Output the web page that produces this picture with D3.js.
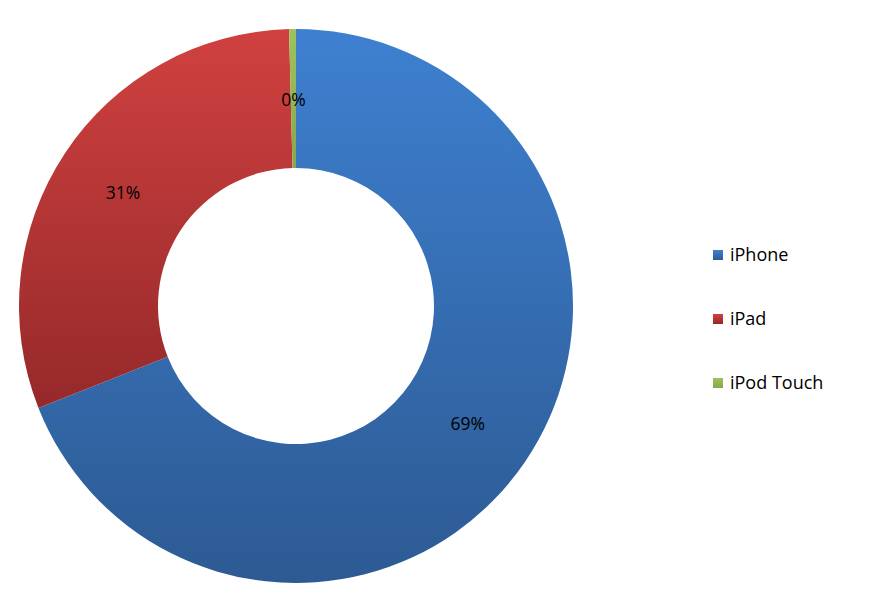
<!DOCTYPE html>
<html>
<head>
<meta charset="utf-8">
<script src="https://cdn.jsdelivr.net/npm/d3@7"></script>
<style>
  body { margin: 0; background: #fff; }
  text { font-family: "Open Sans", "Noto Sans", sans-serif; fill: #000; }
</style>
</head>
<body>
<div id="chart"></div>
<script>
// data
var devices = ["iPhone", "iPad", "iPod Touch"]
var shares = [69.0, 30.6, 0.4]
var pctLabels = ["69%", "31%", "0%"]

var colorTop = ["#3e80d0", "#d04140", "#9fc35a"]
var colorBottom = ["#2d5a93", "#96292a", "#86a84a"]

var width = 873
var height = 616
var cx = 296, cy = 306
var outerR = 277, innerR = 138

var svg = d3.select("#chart")
			.append("svg")
			.attr("width", width)
			.attr("height", height)

var defs = svg.append("defs")
devices.forEach(function(d, i) {
	var g = defs.append("linearGradient")
				.attr("id", "grad" + i)
				.attr("x1", 0).attr("y1", 0)
				.attr("x2", 0).attr("y2", 1)
	g.append("stop").attr("offset", "0%").attr("stop-color", colorTop[i])
	g.append("stop").attr("offset", "100%").attr("stop-color", colorBottom[i])
})

var pie = d3.pie().sort(null).value(function(d) { return d })
var arcs = pie(shares)

var arc = d3.arc().innerRadius(innerR).outerRadius(outerR)

var chart = svg.append("g")
			.attr("transform", "translate(" + cx + "," + cy + ")")

chart.selectAll("path.slice")
	.data(arcs)
	.enter()
	.append("path")
	.attr("class", "slice")
	.attr("d", arc)
	.attr("fill", function(d, i) { return "url(#grad" + i + ")" })

// labels placed in the middle of the ring
var labelArc = d3.arc().innerRadius((innerR + outerR) / 2).outerRadius((innerR + outerR) / 2)
chart.selectAll("text.pct")
	.data(arcs)
	.enter()
	.append("text")
	.attr("class", "pct")
	.attr("transform", function(d) { return "translate(" + labelArc.centroid(d) + ")" })
	.attr("text-anchor", "middle")
	.attr("dy", "0.4em")
	.style("font-size", "17.5px")
	.text(function(d, i) { return pctLabels[i] })

// legend
var legend = svg.append("g").attr("transform", "translate(713,255)")
var item = legend.selectAll("g.item")
	.data(devices)
	.enter()
	.append("g")
	.attr("class", "item")
	.attr("transform", function(d, i) { return "translate(0," + i * 64 + ")" })
item.append("rect")
	.attr("x", 0).attr("y", -5)
	.attr("width", 10).attr("height", 10)
	.attr("fill", function(d, i) { return "url(#grad" + i + ")" })
item.append("text")
	.attr("x", 17)
	.attr("dy", "0.35em")
	.style("font-size", "18px")
	.text(function(d) { return d })
</script>
</body>
</html>
